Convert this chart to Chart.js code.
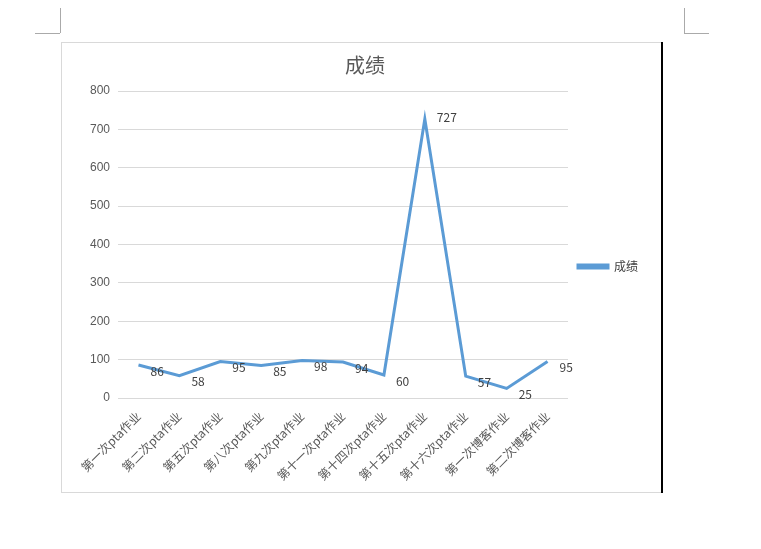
<!DOCTYPE html>
<html><head><meta charset="utf-8">
<script src="https://cdn.jsdelivr.net/npm/chart.js@4"></script>
<style>
body{margin:0;background:#fff;width:761px;height:549px;position:relative;overflow:hidden;font-family:"Noto Sans CJK SC",sans-serif}
#box{position:absolute;left:61px;top:42px;width:600px;height:449px;border:1px solid #d9d9d9;border-right:none}
#bar{position:absolute;left:661px;top:42px;width:2px;height:451px;background:#000}
.c{position:absolute;background:#aaa}
</style></head><body>
<div class="c" style="left:35px;top:33px;width:25px;height:1px"></div>
<div class="c" style="left:60px;top:8px;width:1px;height:25px"></div>
<div class="c" style="left:684px;top:33px;width:25px;height:1px"></div>
<div class="c" style="left:684px;top:8px;width:1px;height:25px"></div>
<div id="box"><canvas id="c" width="600" height="449" style="width:600px;height:449px"></canvas></div>
<div id="bar"></div>
<script>
const categories=["第一次pta作业","第二次pta作业","第五次pta作业","第八次pta作业","第九次pta作业","第十一次pta作业","第十四次pta作业","第十五次pta作业","第十六次pta作业","第一次博客作业","第二次博客作业"];
const scores=[86,58,95,85,98,94,60,727,57,25,95];
const yTicks=[0,100,200,300,400,500,600,700,800];
const labelPlugin={id:'lbl',afterDatasetsDraw(ch){const ctx=ch.ctx;const m=ch.getDatasetMeta(0);ctx.save();ctx.font='12px "Noto Sans CJK SC"';ctx.fillStyle='#404040';ctx.textBaseline='middle';
m.data.forEach((p,i)=>{ctx.fillText(String(scores[i]),p.x+12,p.y+(i===7?-2:6));});ctx.restore();}};
new Chart(document.getElementById('c'),{type:'line',
data:{labels:categories,datasets:[{label:'成绩',data:scores,borderColor:'#5b9bd5',backgroundColor:'#5b9bd5',borderWidth:3,pointRadius:0,tension:0}]},
options:{responsive:false,animation:false,devicePixelRatio:1,
layout:{padding:{left:20,right:14,top:4,bottom:6}},
plugins:{title:{display:true,text:'成绩',color:'#595959',font:{size:20,family:'"Noto Sans CJK SC"',weight:'normal'},padding:{top:6,bottom:14}},
legend:{position:'right',labels:{boxWidth:30,boxHeight:3,color:'#404040',font:{size:12,family:'"Noto Sans CJK SC"'},padding:10}},tooltip:{enabled:false}},
scales:{y:{min:0,max:800,afterBuildTicks(a){a.ticks=yTicks.map(v=>({value:v}));},ticks:{color:'#595959',font:{size:12},padding:8},grid:{color:'#d9d9d9',drawTicks:false},border:{display:false}},
x:{offset:true,ticks:{color:'#595959',maxRotation:45,minRotation:45,font:{size:12,family:'"Noto Sans CJK SC"'}},grid:{display:false},border:{display:false}}}}
,plugins:[labelPlugin]});
</script>
</body></html>
